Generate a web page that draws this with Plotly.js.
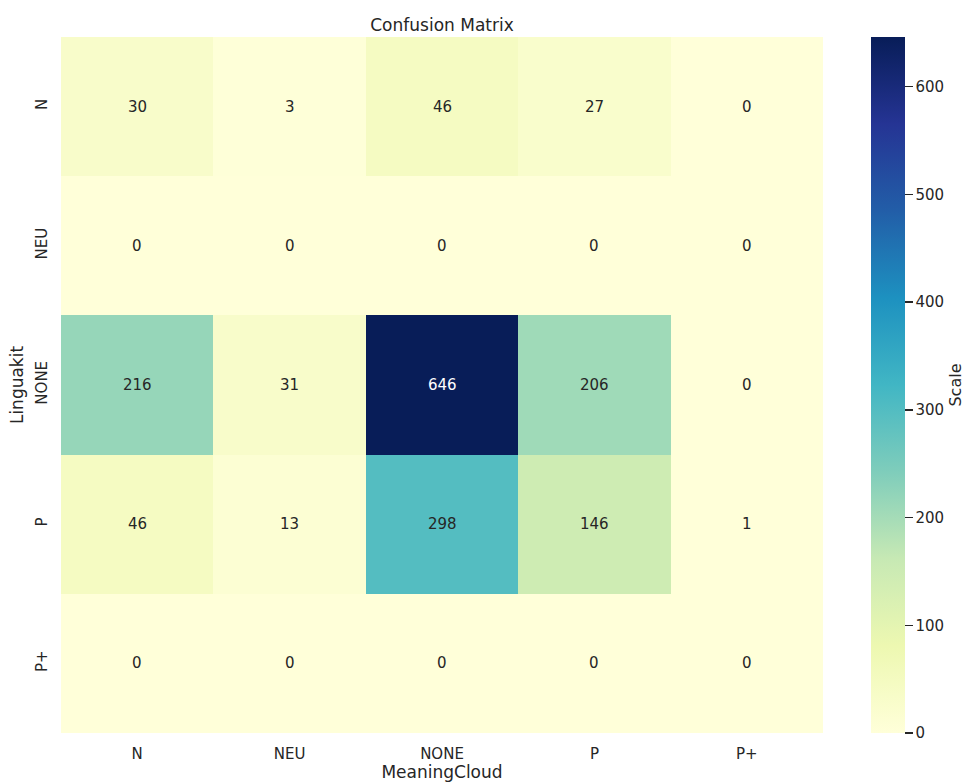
<!DOCTYPE html>
<html><head><meta charset="utf-8">
<script src="https://cdn.plot.ly/plotly-3.0.1.min.js"></script>
<style>html,body{margin:0;padding:0;background:#fff}</style>
</head><body>
<div id="chart" style="width:971px;height:782px"></div>
<script>
const xLabels = ["N","NEU","NONE","P","P+"];
const yLabels = ["N","NEU","NONE","P","P+"];
const rowN    = [30, 3, 46, 27, 0];
const rowNEU  = [0, 0, 0, 0, 0];
const rowNONE = [216, 31, 646, 206, 0];
const rowP    = [46, 13, 298, 146, 1];
const rowPp   = [0, 0, 0, 0, 0];
const z = [rowN, rowNEU, rowNONE, rowP, rowPp];

const ylgnbu = [
  [0.000,"#ffffd9"],[0.125,"#edf8b1"],[0.250,"#c7e9b4"],[0.375,"#7fcdbb"],
  [0.500,"#41b6c4"],[0.625,"#1d91c0"],[0.750,"#225ea8"],[0.875,"#253494"],[1.000,"#081d58"]
];
const zmax = 646;
const font = "DejaVu Sans, sans-serif";

const annotations = [];
z.forEach((row, i) => row.forEach((v, j) => {
  annotations.push({
    x: xLabels[j], y: yLabels[i], text: String(v), showarrow: false,
    font: {family: font, size: 15, color: v / zmax > 0.6 ? "#ffffff" : "#262626"}
  });
}));

const data = [{
  type: "heatmap", x: xLabels, y: yLabels, z: z,
  colorscale: ylgnbu, zmin: 0, zmax: zmax, xgap: 0, ygap: 0,
  colorbar: {
    thickness: 34, len: 1, lenmode: "fraction", y: 0.5, yanchor: "middle",
    x: 1.063, xanchor: "left", xpad: 0, ypad: 0, outlinewidth: 0,
    ticks: "outside", ticklen: 8, tickwidth: 1.5, tickcolor: "#262626",
    tickvals: [0,100,200,300,400,500,600], tickprefix: " ",
    tickfont: {family: font, size: 15, color: "#262626"},
    title: {text: "Scale", side: "right", font: {family: font, size: 16, color: "#262626"}}
  },
  hoverinfo: "none"
}];

const layout = {
  width: 971, height: 782,
  margin: {l: 61, r: 148, t: 37, b: 49, autoexpand: false},
  paper_bgcolor: "#ffffff", plot_bgcolor: "#ffffff",
  title: {text: "Confusion Matrix", x: 0.5, xref: "paper", y: 1, yref: "paper", yanchor: "bottom", pad: {b: 6},
          font: {family: font, size: 17, color: "#262626"}},
  xaxis: {
    type: "category", showgrid: false, zeroline: false, ticks: "outside", ticklen: 7, tickcolor: "rgba(0,0,0,0)",
    tickfont: {family: font, size: 15, color: "#262626"},
    title: {text: "MeaningCloud", standoff: 4, font: {family: font, size: 17, color: "#262626"}}
  },
  yaxis: {
    type: "category", autorange: "reversed", showgrid: false, zeroline: false,
    ticks: "outside", ticklen: 7, tickcolor: "rgba(0,0,0,0)",
    tickangle: -90,
    tickfont: {family: font, size: 15, color: "#262626"},
    title: {text: "Linguakit", standoff: 5, font: {family: font, size: 17, color: "#262626"}}
  },
  annotations: annotations
};

Plotly.newPlot("chart", data, layout, {displayModeBar: false, staticPlot: true});
</script>
</body></html>
